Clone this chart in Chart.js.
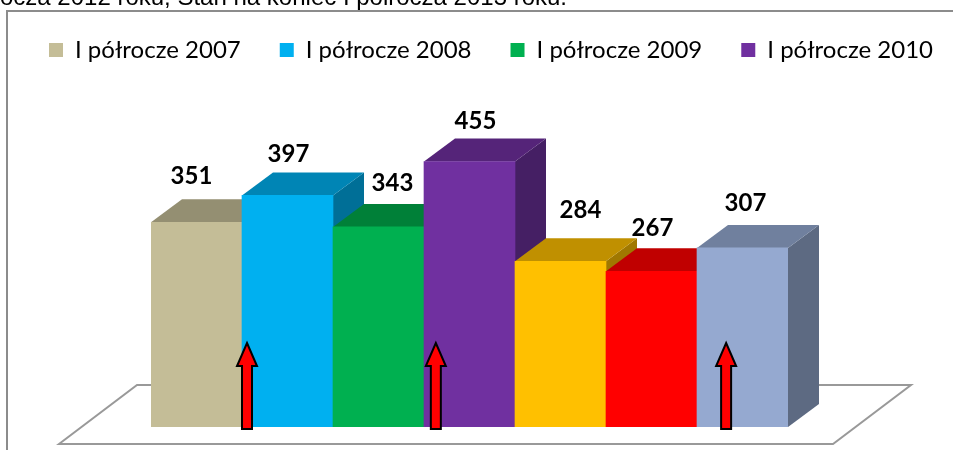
<!DOCTYPE html>
<html><head><meta charset="utf-8">
<style>html,body{margin:0;padding:0;background:#fff}#w{width:953px;height:450px;position:relative;overflow:hidden}</style>
<script src="https://cdn.jsdelivr.net/npm/chart.js@4"></script>
</head><body><div id="w"><canvas id="c" width="953" height="450"></canvas></div>
<script>
const categories = ['I półrocze 2007','I półrocze 2008','I półrocze 2009','I półrocze 2010','I półrocze 2011','I półrocze 2012','I półrocze 2013'];
const values = [351,397,343,455,284,267,307];
const frontColors = ['#C4BD97','#00B0F0','#00B050','#7030A0','#FFC000','#FF0000','#95A9D0'];
const topColors = ['#948F72','#0085B5','#008038','#552479','#C09000','#C00000','#70809E'];
const sideColors = ['#7C785F','#006F97','#006B30','#451F64','#A07800','#A00000','#5D6A82'];
const legendCount = 4;
const labelDx = [-5,1,14,6,20,1,3];
const labelDy = [46,41,44,40,51,43,45];
const arrowSpots = [0.555,2.63,5.82]; // category-axis positions of the three arrows
const caption = 'ocza 2012 roku, Stan na koniec I półrocza 2013 roku.';
const DEPTH_X = 31, DEPTH_Y = 23, LEGEND_H = 77;

const scene = {
  id:'scene',
  beforeLayout(chart){
    const lg = chart.legend;
    if (lg && !lg._wide){
      lg._wide = true;
      const up = lg.update;
      lg.update = function(w,h,m){ up.call(this,w+200,h,m); this.height = LEGEND_H; };
    }
  },
  afterLayout(chart){
    chart.legend.top = -1;
    chart.legend.left = 10;
    chart.legend.right = 1200;
  },
  beforeDraw(chart){
    const c = chart.ctx; c.save();
    c.fillStyle='#fff'; c.fillRect(0,0,953,450);
    c.strokeStyle='#8C8C8C'; c.lineWidth=2;
    c.beginPath(); c.moveTo(7,450); c.lineTo(7,11); c.lineTo(953,11); c.stroke();
    c.fillStyle='#000'; c.font='24px "Liberation Sans"'; c.textAlign='left'; c.textBaseline='alphabetic';
    c.fillText(caption,0,5);
    c.strokeStyle='#999'; c.lineWidth=2; c.lineJoin='miter';
    c.beginPath(); c.moveTo(59,444); c.lineTo(137,385); c.lineTo(911,385); c.lineTo(833,444); c.closePath(); c.stroke();
    c.restore();
  },
  beforeDatasetsDraw(chart){
    const c = chart.ctx, bars = chart.getDatasetMeta(0).data;
    c.save();
    bars.forEach((b,i)=>{
      const l=b.x-b.width/2, r=b.x+b.width/2, t=b.y, B=b.base;
      c.fillStyle=sideColors[i];
      c.beginPath(); c.moveTo(r,t); c.lineTo(r+DEPTH_X,t-DEPTH_Y); c.lineTo(r+DEPTH_X,B-DEPTH_Y); c.lineTo(r,B); c.closePath(); c.fill();
      c.fillStyle=topColors[i];
      c.beginPath(); c.moveTo(l,t); c.lineTo(l+DEPTH_X,t-DEPTH_Y); c.lineTo(r+DEPTH_X,t-DEPTH_Y); c.lineTo(r,t); c.closePath(); c.fill();
    });
    c.restore();
  },
  afterDatasetsDraw(chart){
    const c = chart.ctx, bars = chart.getDatasetMeta(0).data, {x:xs,y:ys} = chart.scales;
    c.save();
    c.fillStyle='#000'; c.font='bold 24px Lato'; c.textAlign='center'; c.textBaseline='middle';
    bars.forEach((b,i)=>c.fillText(String(values[i]),b.x+labelDx[i],b.y-labelDy[i]));
    const base = ys.getPixelForValue(0);
    arrowSpots.forEach(s=>{
      const x = xs.getPixelForValue(s), tip = base-84, neck = base-61, end = base+2;
      c.fillStyle='#FF0000'; c.strokeStyle='#000'; c.lineWidth=2; c.lineJoin='miter';
      c.beginPath();
      c.moveTo(x,tip); c.lineTo(x+10,neck); c.lineTo(x+5,neck); c.lineTo(x+5,end); c.lineTo(x-5,end); c.lineTo(x-5,neck); c.lineTo(x-10,neck); c.closePath();
      c.fill(); c.stroke();
    });
    c.restore();
  }
};

new Chart(document.getElementById('c'),{
  type:'bar',
  data:{labels:categories,datasets:[{label:'Liczba',data:values,backgroundColor:frontColors,borderWidth:0,barPercentage:1,categoryPercentage:1}]},
  plugins:[scene],
  options:{
    responsive:false,animation:false,
    layout:{padding:{top:0,bottom:23,left:0,right:0}},
    scales:{
      x:{display:false,offset:true},
      y:{display:false,min:0,max:600,position:'left',afterFit(s){s.width=151;}},
      yr:{display:false,min:0,max:600,position:'right',afterFit(s){s.width=165;}}
    },
    plugins:{
      tooltip:{enabled:false},
      legend:{display:true,position:'top',align:'start',
        labels:{
          boxWidth:14,boxHeight:14,padding:39,color:'#000',font:{family:'Lato',size:24},
          generateLabels(){return categories.slice(0,legendCount).map((t,i)=>({text:t,fillStyle:frontColors[i],strokeStyle:frontColors[i],lineWidth:0,hidden:false,index:i}));}
        }
      }
    }
  }
});
</script></body></html>
